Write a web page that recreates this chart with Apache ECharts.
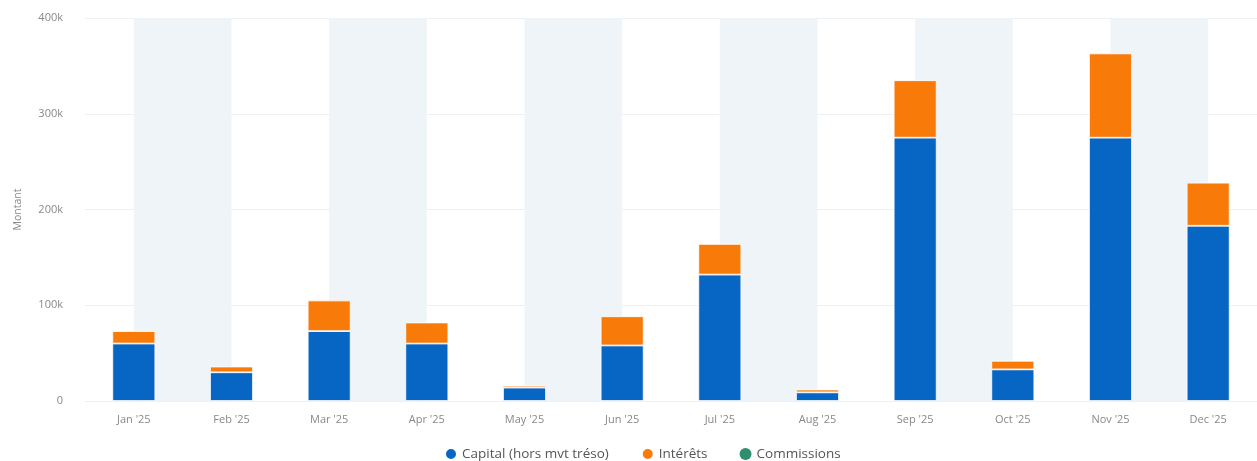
<!DOCTYPE html>
<html>
<head>
<meta charset="utf-8">
<script src="https://cdn.jsdelivr.net/npm/echarts@6/dist/echarts.min.js"></script>
<style>html,body{margin:0;padding:0;background:#fff}#c{width:1257px;height:461px}</style>
</head>
<body>
<div id="c"></div>
<script>
const categories = ["Jan '25","Feb '25","Mar '25","Apr '25","May '25","Jun '25","Jul '25","Aug '25","Sep '25","Oct '25","Nov '25","Dec '25"];
const capital = [60000, 30000, 73000, 60000, 14000, 58000, 132000, 9000, 275000, 33000, 275000, 183000];
const interets = [13000, 6000, 32000, 22000, 2000, 30500, 32000, 3000, 60000, 9000, 88000, 45000];
const commissions = [0, 0, 0, 0, 0, 0, 0, 0, 0, 0, 0, 0];
const yTicks = [0, 100000, 200000, 300000, 400000];

const chart = echarts.init(document.getElementById('c'));
const font = 'Open Sans, Noto Sans, sans-serif';
chart.setOption({
  animation: false,
  textStyle: {fontFamily: font},
  grid: {left: 85, right: -2, top: 18, bottom: 60},
  legend: {
    bottom: -5, left: 439, icon: 'circle', itemWidth: 12, itemHeight: 12, itemGap: 32,
    textStyle: {color: '#555', fontSize: 13.5, fontFamily: font},
    data: ['Capital (hors mvt tréso)', 'Intérêts', 'Commissions']
  },
  xAxis: {
    type: 'category', data: categories,
    axisLine: {show: false}, axisTick: {show: false},
    axisLabel: {color: '#888', fontSize: 11, margin: 13},
    splitArea: {show: true, alignWithLabel: true, areaStyle: {color: ['#eff4f8', 'rgba(255,255,255,0)']}}
  },
  yAxis: {
    type: 'value', min: yTicks[0], max: yTicks[yTicks.length - 1], interval: 100000,
    name: 'Montant', nameLocation: 'middle', nameGap: 61,
    nameTextStyle: {color: '#888', fontSize: 10.5},
    axisLabel: {color: '#888', fontSize: 11, margin: 22,
      formatter: v => v === 0 ? '0' : (v / 1000) + 'k'},
    splitLine: {lineStyle: {color: '#eef0f3'}}
  },
  series: [
    {name: 'Capital (hors mvt tréso)', type: 'bar', stack: 't', data: capital, barWidth: '44%',
     itemStyle: {color: '#0765c3', borderColor: '#fff', borderWidth: 0.8}},
    {name: 'Intérêts', type: 'bar', stack: 't', data: interets,
     itemStyle: {color: '#f87b0a', borderColor: '#fff', borderWidth: 0.8}},
    {name: 'Commissions', type: 'bar', stack: 't', data: commissions,
     itemStyle: {color: '#2e8f6f'}}
  ]
});
</script>
</body>
</html>
